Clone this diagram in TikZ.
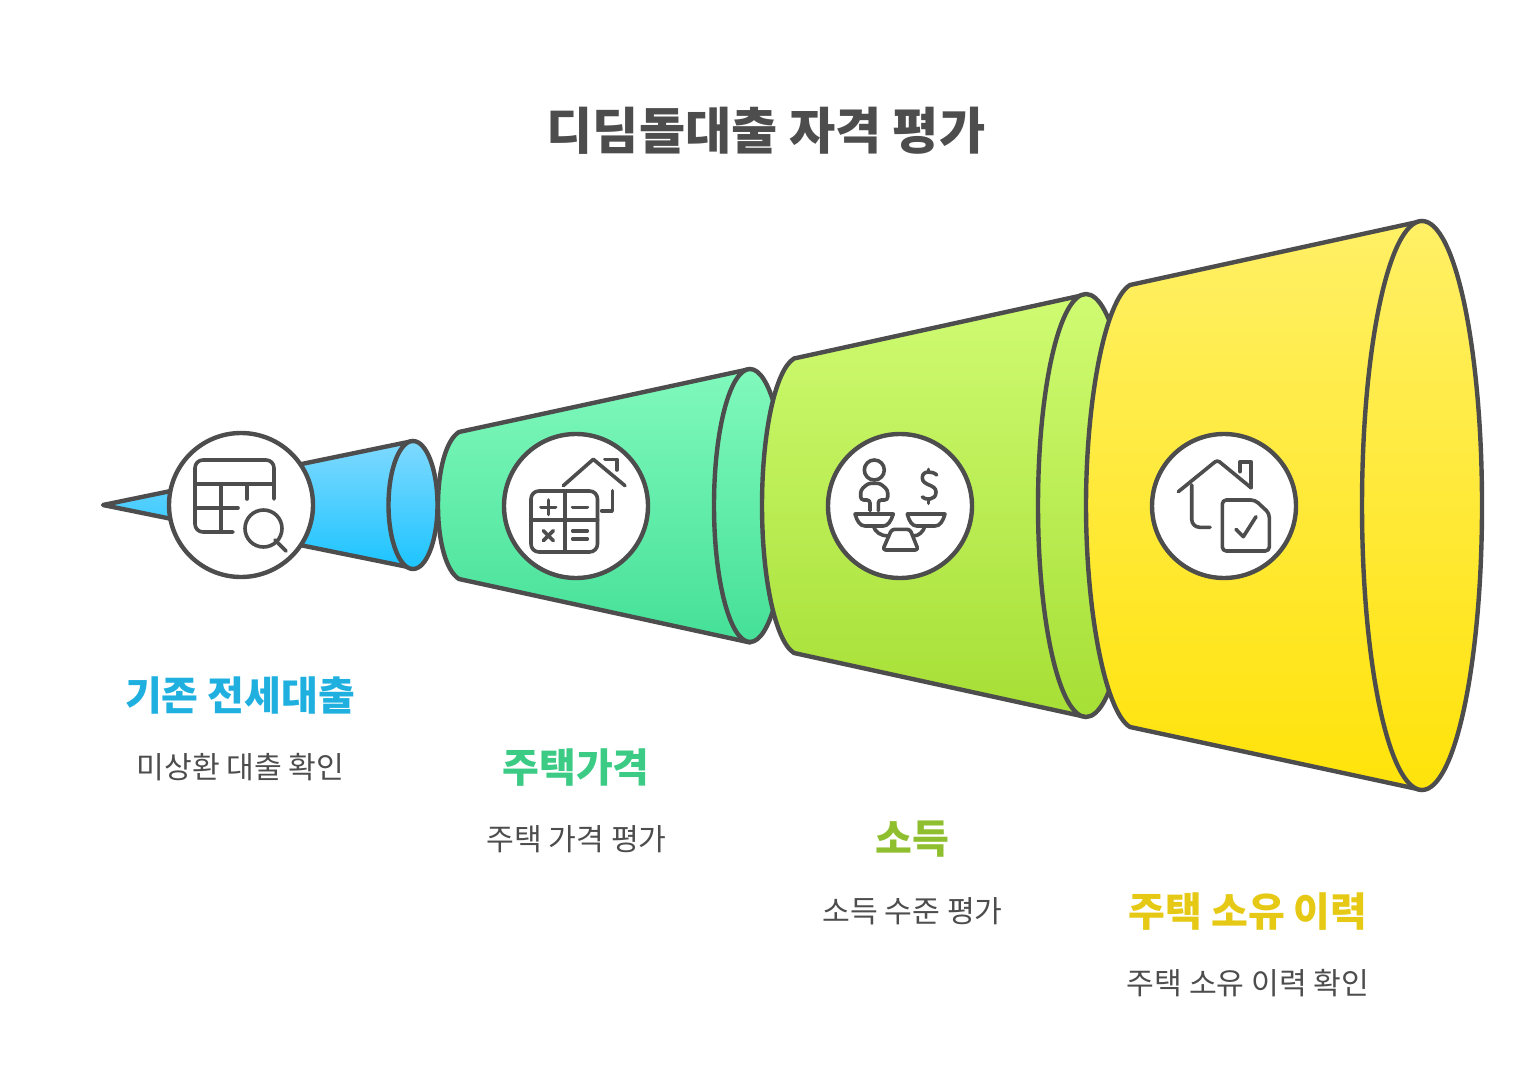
\documentclass[tikz,border=0pt]{standalone}
\usepackage{fontspec}
\newfontfamily\krfont{Noto Sans CJK KR}
\definecolor{ink}{HTML}{4D4D4D}
\definecolor{headblue}{HTML}{1FB0E0}
\definecolor{headgreen}{HTML}{3CCB85}
\definecolor{headlime}{HTML}{8FBF2F}
\definecolor{headyellow}{HTML}{E6C914}
\tikzset{
  cone line/.style={draw=ink,line width=2.2pt,line join=round},
  cone blue/.style={cone line,top color={rgb,255:red,127;green,217;blue,255},bottom color={rgb,255:red,28;green,196;blue,255}},
  cone green/.style={cone line,top color={rgb,255:red,128;green,249;blue,188},bottom color={rgb,255:red,69;green,224;blue,152}},
  cone lime/.style={cone line,top color={rgb,255:red,207;green,251;blue,114},bottom color={rgb,255:red,166;green,223;blue,53}},
  cone yellow/.style={cone line,top color={rgb,255:red,255;green,240;blue,102},bottom color={rgb,255:red,255;green,227;blue,10}},
  icon circle/.style={circle,draw=ink,fill=white,line width=2.2pt,minimum size=72pt,inner sep=0pt},
  icon line/.style={draw=ink,line width=1.8pt,line cap=round,line join=round},
  title node/.style={font=\krfont\bfseries\fontsize{25.1}{30}\selectfont,text=ink},
  head node/.style={font=\krfont\bfseries\fontsize{20}{24}\selectfont},
  text node/.style={font=\krfont\fontsize{15.1}{18}\selectfont,text=ink}
}
\begin{document}
\begin{tikzpicture}[x=0.5pt,y=-0.5pt]
\useasboundingbox (0,0) rectangle (1530,1069);
\node[title node] (title) at (766,131) {디딤돌대출 자격 평가};
% cones
\draw[cone blue] (103,505) -- (413,441) -- (413,568) -- cycle;
\draw[cone blue] (413,505) ellipse [x radius=24.5,y radius=64];
\draw[cone green] (459,432) -- (750,369) -- (750,642.5) -- (459,579) .. controls (446,571) and (438,541) .. (438,505.5) .. controls (438,470) and (446,440) .. (459,432) -- cycle;
\draw[cone green] (750,505.5) ellipse [x radius=36,y radius=136.5];
\draw[cone lime] (794,358.5) -- (1086,294.5) -- (1086,717) -- (794,653) .. controls (775,641) and (762,577) .. (762,505.5) .. controls (762,434) and (775,370) .. (794,358.5) -- cycle;
\draw[cone lime] (1086,505.5) ellipse [x radius=48,y radius=211.5];
\draw[cone yellow] (1130,285) -- (1422,221) -- (1422,790) -- (1130,727) .. controls (1105,712) and (1086,610) .. (1086,505.5) .. controls (1086,401) and (1105,300) .. (1130,285) -- cycle;
\draw[cone yellow] (1422,505.5) ellipse [x radius=60,y radius=284.5];
% circles
\node[icon circle] (loan) at (241,505) {};
\node[icon circle] (price) at (576,506) {};
\node[icon circle] (income) at (900,506) {};
\node[icon circle] (owner) at (1224,506) {};
% table and magnifier
\draw[icon line,rounded corners=4pt] (274,499) -- (274,460) -- (195,460) -- (195,532) -- (233,532);
\draw[icon line] (195,484) -- (274,484);
\draw[icon line] (221,484) -- (221,532);
\draw[icon line] (247,484) -- (247,499);
\draw[icon line] (195,508) -- (238,508);
\draw[icon line] (263.5,528.5) circle [radius=18.5];
\draw[icon line] (275,540) -- (286,551);
% calculator and roof
\draw[icon line,rounded corners=4pt] (531,491) rectangle (597.5,552);
\draw[icon line] (565,491) -- (565,552);
\draw[icon line] (531,520) -- (597.5,520);
\draw[icon line] (541,507.3) -- (555.5,507.3);
\draw[icon line] (548.3,500) -- (548.3,514.5);
\draw[icon line] (572.7,507.3) -- (587.3,507.3);
\draw[icon line] (543.3,530.7) -- (553.3,540.7);
\draw[icon line] (553.3,530.7) -- (543.3,540.7);
\draw[icon line] (572.7,531) -- (587.3,531);
\draw[icon line] (572.7,539) -- (587.3,539);
\draw[icon line] (563.3,485.7) -- (593.3,459.3) -- (625,485.7);
\draw[icon line] (605,459.3) -- (616.7,459.3) -- (616.7,470);
\draw[icon line] (612.3,490.7) -- (612.3,510.7) -- (601.7,510.7);
% person, dollar and scale
\draw[icon line] (874.3,470) circle [radius=10];
\draw[icon line,rounded corners=1.5pt] (870,510.7) -- (870,500) -- (860.7,500) -- (860.7,490) -- (868.3,483.3) -- (880,483.3) -- (887.7,490) -- (887.7,500) -- (878.3,500) -- (878.3,510.7);
\draw[icon line] (855,514) -- (893.3,514) .. controls (891,521) and (888,526) .. (883.3,526) -- (865,526) .. controls (860,526) and (857,521) .. (855,514) -- cycle;
\draw[icon line] (907.3,514) -- (945,514) .. controls (943,521) and (940,526) .. (935,526) -- (916.7,526) .. controls (912,526) and (909,521) .. (907.3,514) -- cycle;
\draw[icon line,rounded corners=1.5pt] (891.7,529.3) -- (910,529.3) -- (918.3,550) -- (882.7,550) -- cycle;
\draw[icon line] (873.3,526) .. controls (875,532) and (881,536) .. (888,536);
\draw[icon line] (925,526) .. controls (923,532) and (919,536) .. (913,536);
\draw[icon line] (936.7,475) .. controls (933,471) and (922,470) .. (922.3,478) .. controls (922.5,486) and (936,484) .. (936,492) .. controls (936,501) and (925,500) .. (922.3,497);
\draw[icon line] (928.3,469.3) -- (928.3,472);
\draw[icon line] (928.3,500) -- (928.3,503.3);
% house and document
\draw[icon line,rounded corners=1.5pt] (1178.3,491.7) -- (1217.3,460) -- (1251,487.7);
\draw[icon line] (1240,471.7) -- (1240,461.7) -- (1251,461.7) -- (1251,487.7);
\draw[icon line,rounded corners=4pt] (1191.7,485) -- (1191.7,527.3) -- (1210,527.3);
\draw[icon line,rounded corners=2pt] (1222.3,500) -- (1255,500) -- (1269.3,513.3) -- (1269.3,551) -- (1222.3,551) -- cycle;
\draw[icon line] (1236,529.3) -- (1243.3,536.7) -- (1256,516.7);
% labels
\node[head node,text=headblue] (loanhead) at (240,695.5) {기존 전세대출};
\node[text node] (loantext) at (240.5,767.5) {미상환 대출 확인};
\node[head node,text=headgreen] (pricehead) at (576,767.5) {주택가격};
\node[text node] (pricetext) at (576.5,839.5) {주택 가격 평가};
\node[head node,text=headlime] (incomehead) at (912,839.5) {소득};
\node[text node] (incometext) at (912.5,911.5) {소득 수준 평가};
\node[head node,text=headyellow] (ownerhead) at (1248,911.5) {주택 소유 이력};
\node[text node] (ownertext) at (1248,983.5) {주택 소유 이력 확인};
\end{tikzpicture}
\end{document}
